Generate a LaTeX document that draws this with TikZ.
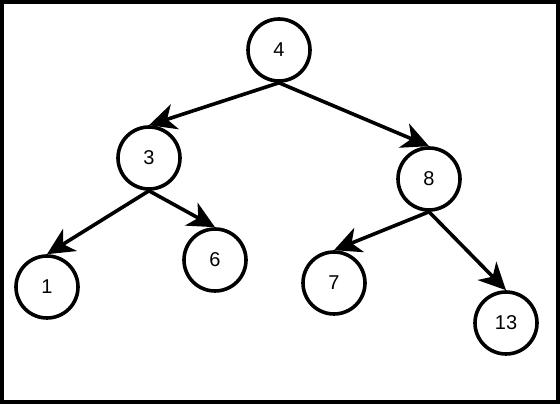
\documentclass[tikz,border=0pt]{standalone}
\usepackage{fontspec}
\setmainfont{Liberation Sans}
\usetikzlibrary{arrows.meta}
\tikzset{
	tnode/.style={circle,draw,line width=3.6pt,minimum size=62pt,inner sep=0pt,
		font=\fontsize{20}{24}\selectfont},
	edge/.style={line width=3.6pt,-{Stealth[length=27pt,width=26pt,inset=8pt]}}
}
\begin{document}
\begin{tikzpicture}[x=1pt,y=1pt]
	\useasboundingbox (0,0) rectangle (560,404);
	\draw[line width=4pt] (2,2) rectangle (558,402);
	% the tree
	\node[tnode] (n4) at (279,354) {4};
	\node[tnode] (n3) at (149,246) {3};
	\node[tnode] (n8) at (429,225) {8};
	\node[tnode] (n1) at (47,117) {1};
	\node[tnode] (n6) at (215,144) {6};
	\node[tnode] (n7) at (334,121) {7};
	\node[tnode] (n13) at (506,81) {13};
	\foreach \A/\B in {n4/n3,n4/n8,n3/n1,n3/n6,n8/n7,n8/n13}
	{\draw[edge] (\A.south) -- (\B.north);}
\end{tikzpicture}
\end{document}
